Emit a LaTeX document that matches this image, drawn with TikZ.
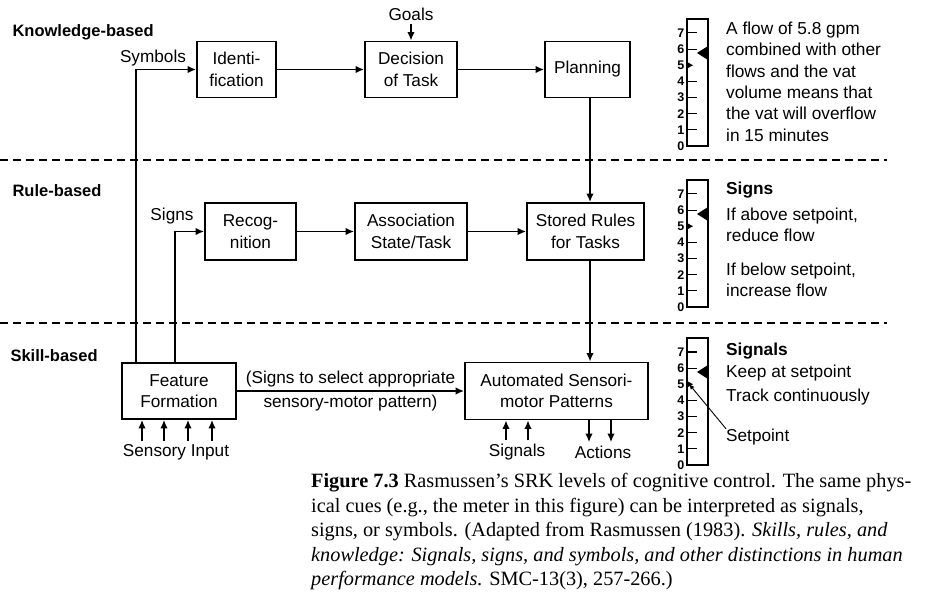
\documentclass[tikz,border=0pt]{standalone}
\usepackage{fontspec}
\setmainfont{Liberation Sans}
\newfontfamily\capfont{Liberation Serif}
\usetikzlibrary{arrows.meta,positioning}

\tikzset{
  box/.style={draw, line width=1.8pt, align=center, minimum height=56pt, inner sep=2pt},
  flow/.style={line width=1.9pt, ->},
  level/.style={anchor=west, font=\fontsize{16.5}{19}\selectfont\bfseries},
  lbl/.style={},
  num/.style={anchor=east, inner sep=0pt, font=\fontsize{12.5}{12.5}\selectfont\bfseries},
  note/.style={anchor=north west, align=left, inner sep=0pt},
  sep/.style={line width=2.2pt, dash pattern=on 7.5pt off 5.5pt}
}

% meter with bottom at #1
\newcommand{\drawgauge}[1]{%
  \draw[line width=1.2pt] (687,#1-127) rectangle (708,#1);
  \foreach \k in {0,...,7} \node[num] at (684.5,#1-16.15*\k) {\k};
  \foreach \k in {1,2,3,4,6,7} \draw[line width=1.1pt] (687,#1-16.15*\k) -- (697,#1-16.15*\k);
  \fill (687,#1-84) -- (693,#1-80.75) -- (687,#1-77.5) -- cycle;
  \fill (697,#1-93) -- (708,#1-100) -- (708,#1-86) -- cycle;
}

\begin{document}
\begin{tikzpicture}[x=1pt, y=-1pt, font=\fontsize{17.2}{21.5}\selectfont, >={Latex[length=8.5pt,width=7.5pt]}]
  \useasboundingbox (0,0) rectangle (935,596);

  \node[level] (kb) at (9,32) {Knowledge-based};
  \node[level] (rb) at (9,191) {Rule-based};
  \node[level] (sb) at (7,356) {Skill-based};

  \draw[sep] (0,160) -- (887,160);
  \draw[sep] (0,323) -- (887,323);

  % knowledge-based
  \node[box, minimum width=79] (ident) at (236.5,69.5) {Identi-\\fication};
  \node[box, minimum width=92] (decision) at (411,69.5) {Decision\\of Task};
  \node[box, minimum width=85] (planning) at (587.5,69.5) {Planning};
  \node[lbl] (goals) at (411,14) {Goals};
  \node[lbl] (symb) at (153,58) {Symbols};

  % rule-based
  \node[box, minimum width=91, minimum height=57] (recog) at (250.5,231.5) {Recog-\\nition};
  \node[box, minimum width=112, minimum height=57] (assoc) at (411,231.5) {Association\\State/Task};
  \node[box, minimum width=117, minimum height=57] (stored) at (585.5,231.5) {Stored Rules\\for Tasks};
  \node[lbl] (signs) at (172,216) {Signs};

  % skill-based
  \node[box, minimum width=114] (feature) at (179,391) {Feature\\Formation};
  \node[box, minimum width=183, minimum height=57] (auto) at (556.5,391) {Automated Sensori-\\motor Patterns};
  \node[lbl] (sensin) at (176,452) {Sensory Input};
  \node[lbl] (signals) at (517,452) {Signals};
  \node[lbl] (actions) at (603,452) {Actions};

  \coordinate (spine) at (590,0);

  \draw[flow] (goals) -- (decision);
  \draw[flow] (ident) -- (decision);
  \draw[flow] (decision) -- (planning);
  \draw[flow] (planning.south -| spine) -- (stored.north -| spine);
  \draw[flow] (recog) -- (assoc);
  \draw[flow] (assoc) -- (stored);
  \draw[flow] (stored.south -| spine) -- (auto.north -| spine);
  \draw[flow] ([xshift=15pt]feature.north west) |- (ident.west);
  \draw[flow] ([xshift=54pt]feature.north west) |- (recog.west);
  \draw[flow] (feature) -- node[above] {(Signs to select appropriate}
    node[below] {sensory-motor pattern)} (auto);

  \foreach \dx in {-34,-12,12,36}
    \draw[flow] ([xshift=\dx pt]sensin.north) -- ([xshift=\dx pt]sensin.north |- feature.south);
  \foreach \dx in {-11,11}
    \draw[flow] ([xshift=\dx pt]signals.north) -- ([xshift=\dx pt]signals.north |- auto.south);
  \foreach \dx in {-14,8}
    \draw[flow] ([xshift=\dx pt]actions.north |- auto.south) -- ([xshift=\dx pt]actions.north);

  % meters
  \drawgauge{146}
  \drawgauge{307}
  \drawgauge{465}

  \node[note, font=\fontsize{17.3}{21.4}\selectfont] (txtk) at (726,21.5)
    {A flow of 5.8 gpm\\combined with other\\flows and the vat\\volume means that\\the vat will overflow\\in 15 minutes};
  \node[note, font=\fontsize{17.3}{21.4}\selectfont] (txtr) at (726,181.5)
    {\textbf{Signs}\\[4.5pt]If above setpoint,\\reduce flow\\[12.5pt]If below setpoint,\\increase flow};
  \node[note, font=\fontsize{17.3}{21.4}\selectfont] (txts) at (726,342.5)
    {\textbf{Signals}\\[0.6pt]Keep at setpoint\\[2.6pt]Track continuously};
  \node[lbl, anchor=west, inner sep=0pt] (setpt) at (726,437) {Setpoint};
  \coordinate (sp) at (689,384);
  \draw[line width=0.9pt, -{Latex[length=5.5pt,width=4.5pt]}] (setpt.north west) -- (sp);

  % caption
  \node[note, font=\capfont\fontsize{20.3}{24.5}\selectfont] (cap) at (311,473.5)
    {\textbf{Figure 7.3} Rasmussen’s SRK levels of cognitive control. The same phys-\\
     ical cues (e.g., the meter in this figure) can be interpreted as signals,\\
     signs, or symbols. (Adapted from Rasmussen (1983). \textit{Skills, rules, and}\\
     \textit{knowledge: Signals, signs, and symbols, and other distinctions in human}\\
     \textit{performance models.} SMC-13(3), 257-266.)};
\end{tikzpicture}
\end{document}
